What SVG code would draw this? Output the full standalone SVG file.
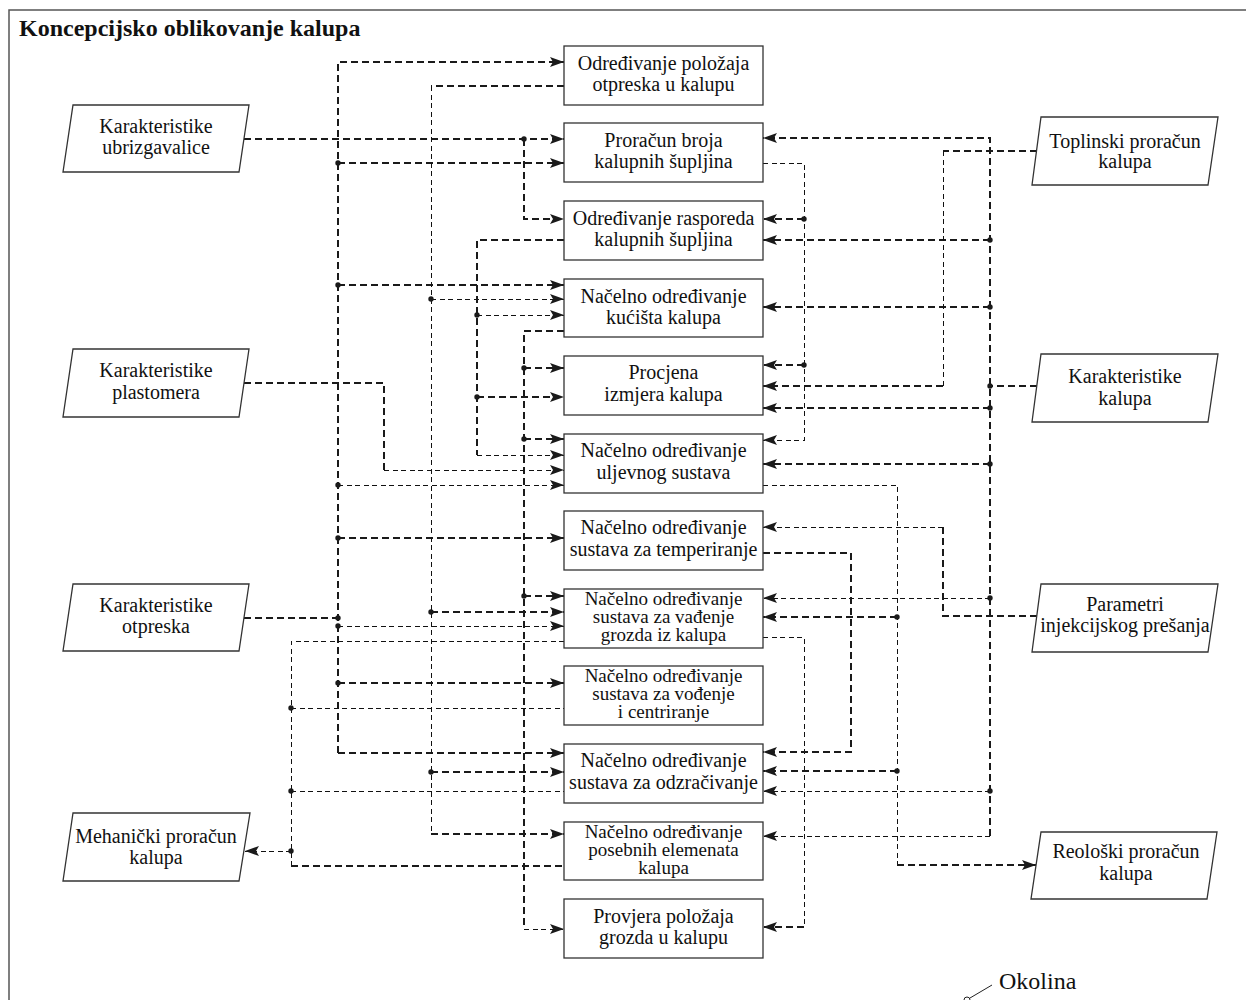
<svg xmlns="http://www.w3.org/2000/svg" width="1246" height="1000" viewBox="0 0 1246 1000">
<style>
text{font-family:"Liberation Serif","Times New Roman",serif;font-size:20px;fill:#111;text-anchor:middle}
.t3 text{font-size:19px}
.box{fill:#fff;stroke:#333;stroke-width:1.3}
.thk{fill:none;stroke:#1a1a1a;stroke-width:2;stroke-dasharray:7 4}
.thn{fill:none;stroke:#111;stroke-width:1;stroke-dasharray:5 3.5;shape-rendering:crispEdges}
.dot{fill:#1a1a1a}
.title{font-weight:bold;font-size:24px;text-anchor:start}
</style>
<defs>
<marker id="ar" viewBox="0 0 14 10" refX="14" refY="5" markerWidth="14" markerHeight="10" markerUnits="userSpaceOnUse" orient="auto">
<path d="M0,0 L14,5 L0,10 L3,5 z" fill="#1a1a1a"/>
</marker>
</defs>
<rect width="1246" height="1000" fill="#fff"/>
<path d="M9,1000 V10 H1246" fill="none" stroke="#555" stroke-width="1.5"/>
<text class="title" x="19" y="36">Koncepcijsko oblikovanje kalupa</text>

<g id="connectors">
<path class="thk" d="M244,618 H338"/>
<path class="thk" d="M338,753 V62 H564" marker-end="url(#ar)"/>
<path class="thk" d="M338,753 H564" marker-end="url(#ar)"/>
<path class="thk" d="M338,163 H564" marker-end="url(#ar)"/>
<path class="thk" d="M338,285 H564" marker-end="url(#ar)"/>
<path class="thn" d="M338,485 H564" marker-end="url(#ar)"/>
<path class="thk" d="M338,538 H564" marker-end="url(#ar)"/>
<path class="thn" d="M338,626 H564" marker-end="url(#ar)"/>
<path class="thk" d="M338,683 H564" marker-end="url(#ar)"/>
<path class="thk" d="M244,139 H564" marker-end="url(#ar)"/>
<path class="thk" d="M524,139 V219 H564" marker-end="url(#ar)"/>
<path class="thk" d="M564,86 H431"/>
<path class="thn" d="M431,86 V834"/>
<path class="thk" d="M431,834 H564" marker-end="url(#ar)"/>
<path class="thn" d="M431,299 H564" marker-end="url(#ar)"/>
<path class="thk" d="M431,612 H564" marker-end="url(#ar)"/>
<path class="thk" d="M431,772 H564" marker-end="url(#ar)"/>
<path class="thk" d="M564,240 H477 V455"/>
<path class="thn" d="M477,455 H564" marker-end="url(#ar)"/>
<path class="thn" d="M477,315 H564" marker-end="url(#ar)"/>
<path class="thk" d="M477,397 H564" marker-end="url(#ar)"/>
<path class="thk" d="M564,331 H524 V929"/>
<path class="thn" d="M524,929 H564" marker-end="url(#ar)"/>
<path class="thk" d="M524,368 H564" marker-end="url(#ar)"/>
<path class="thk" d="M524,439 H564" marker-end="url(#ar)"/>
<path class="thk" d="M524,596 H564" marker-end="url(#ar)"/>
<path class="thk" d="M244,383 H384 V470"/>
<path class="thn" d="M384,470 H564" marker-end="url(#ar)"/>
<path class="thn" d="M564,641 H291 V866"/>
<path class="thk" d="M291,866 H564"/>
<path class="thn" d="M291,708 H564"/>
<path class="thn" d="M291,791 H564"/>
<path class="thn" d="M291,851 H245" marker-end="url(#ar)"/>
<path class="thn" d="M763,163 H804 V440 H763" marker-end="url(#ar)"/>
<path class="thk" d="M804,219 H763" marker-end="url(#ar)"/>
<path class="thk" d="M804,365 H763" marker-end="url(#ar)"/>
<path class="thn" d="M763,637 H804 V927"/>
<path class="thk" d="M804,927 H763" marker-end="url(#ar)"/>
<path class="thk" d="M1037,386 H990"/>
<path class="thk" d="M990,836 V138 H763" marker-end="url(#ar)"/>
<path class="thk" d="M990,240 H763" marker-end="url(#ar)"/>
<path class="thk" d="M990,307 H763" marker-end="url(#ar)"/>
<path class="thk" d="M990,408 H763" marker-end="url(#ar)"/>
<path class="thk" d="M990,464 H763" marker-end="url(#ar)"/>
<path class="thn" d="M990,598 H763" marker-end="url(#ar)"/>
<path class="thn" d="M990,791 H763" marker-end="url(#ar)"/>
<path class="thn" d="M990,836 H763" marker-end="url(#ar)"/>
<path class="thk" d="M1037,151 H943"/>
<path class="thn" d="M943,151 V386"/>
<path class="thk" d="M943,386 H763" marker-end="url(#ar)"/>
<path class="thk" d="M1037,616 H943 V527"/>
<path class="thn" d="M943,527 H763" marker-end="url(#ar)"/>
<path class="thn" d="M763,485 H897 V865"/>
<path class="thk" d="M897,865 H1036" marker-end="url(#ar)"/>
<path class="thk" d="M897,617 H763" marker-end="url(#ar)"/>
<path class="thk" d="M897,771 H763" marker-end="url(#ar)"/>
<path class="thk" d="M763,553 H851 V752 H763" marker-end="url(#ar)"/>
<g class="dot">
<circle cx="338" cy="163" r="2.7"/><circle cx="338" cy="285" r="2.7"/><circle cx="338" cy="485" r="2.7"/>
<circle cx="338" cy="538" r="2.7"/><circle cx="338" cy="618" r="2.7"/><circle cx="338" cy="626" r="2.7"/>
<circle cx="338" cy="683" r="2.7"/><circle cx="524" cy="139" r="2.7"/>
<circle cx="431" cy="299" r="2.7"/><circle cx="431" cy="612" r="2.7"/><circle cx="431" cy="772" r="2.7"/>
<circle cx="477" cy="315" r="2.7"/><circle cx="477" cy="397" r="2.7"/>
<circle cx="524" cy="368" r="2.7"/><circle cx="524" cy="439" r="2.7"/><circle cx="524" cy="596" r="2.7"/>
<circle cx="291" cy="708" r="2.7"/><circle cx="291" cy="791" r="2.7"/><circle cx="291" cy="851" r="2.7"/>
<circle cx="804" cy="219" r="2.7"/><circle cx="804" cy="365" r="2.7"/>
<circle cx="990" cy="240" r="2.7"/><circle cx="990" cy="307" r="2.7"/><circle cx="990" cy="386" r="2.7"/>
<circle cx="990" cy="408" r="2.7"/><circle cx="990" cy="464" r="2.7"/><circle cx="990" cy="598" r="2.7"/>
<circle cx="990" cy="791" r="2.7"/><circle cx="897" cy="617" r="2.7"/><circle cx="897" cy="771" r="2.7"/>
</g>
</g>

<g id="box1"><rect class="box" x="564" y="46" width="199" height="59"/><text x="663.5" y="70">Određivanje položaja</text><text x="663.5" y="91">otpreska u kalupu</text></g>
<g id="box2"><rect class="box" x="564" y="123" width="199" height="59"/><text x="663.5" y="147">Proračun broja</text><text x="663.5" y="168">kalupnih šupljina</text></g>
<g id="box3"><rect class="box" x="564" y="201" width="199" height="59"/><text x="663.5" y="225">Određivanje rasporeda</text><text x="663.5" y="246">kalupnih šupljina</text></g>
<g id="box4"><rect class="box" x="564" y="279" width="199" height="58"/><text x="663.5" y="303">Načelno određivanje</text><text x="663.5" y="324">kućišta kalupa</text></g>
<g id="box5"><rect class="box" x="564" y="356" width="199" height="59"/><text x="663.5" y="379">Procjena</text><text x="663.5" y="401">izmjera kalupa</text></g>
<g id="box6"><rect class="box" x="564" y="434" width="199" height="59"/><text x="663.5" y="457">Načelno određivanje</text><text x="663.5" y="479">uljevnog sustava</text></g>
<g id="box7"><rect class="box" x="564" y="511" width="199" height="59"/><text x="663.5" y="534">Načelno određivanje</text><text x="663.5" y="556">sustava za temperiranje</text></g>
<g id="box8" class="t3"><rect class="box" x="564" y="589" width="199" height="59"/><text x="663.5" y="605">Načelno određivanje</text><text x="663.5" y="623">sustava za vađenje</text><text x="663.5" y="641">grozda iz kalupa</text></g>
<g id="box9" class="t3"><rect class="box" x="564" y="666" width="199" height="59"/><text x="663.5" y="682">Načelno određivanje</text><text x="663.5" y="700">sustava za vođenje</text><text x="663.5" y="718">i centriranje</text></g>
<g id="box10"><rect class="box" x="564" y="744" width="199" height="59"/><text x="663.5" y="767">Načelno određivanje</text><text x="663.5" y="789">sustava za odzračivanje</text></g>
<g id="box11" class="t3"><rect class="box" x="564" y="822" width="199" height="58"/><text x="663.5" y="838">Načelno određivanje</text><text x="663.5" y="856">posebnih elemenata</text><text x="663.5" y="874">kalupa</text></g>
<g id="box12"><rect class="box" x="564" y="899" width="199" height="59"/><text x="663.5" y="923">Provjera položaja</text><text x="663.5" y="944">grozda u kalupu</text></g>

<g id="ubrizgavalice"><polygon class="box" points="73,105 249,105 239,172 63,172"/><text x="156" y="133">Karakteristike</text><text x="156" y="154">ubrizgavalice</text></g>
<g id="plastomera"><polygon class="box" points="73,349 249,349 239,417 63,417"/><text x="156" y="377">Karakteristike</text><text x="156" y="399">plastomera</text></g>
<g id="otpreska"><polygon class="box" points="73,584 249,584 239,651 63,651"/><text x="156" y="612">Karakteristike</text><text x="156" y="633">otpreska</text></g>
<g id="mehanicki"><polygon class="box" points="73,813 250,813 239,881 63,881"/><text x="156" y="843">Mehanički proračun</text><text x="156" y="864">kalupa</text></g>
<g id="toplinski"><polygon class="box" points="1041,117 1218,117 1208,185 1032,185"/><text x="1125" y="148">Toplinski proračun</text><text x="1125" y="168">kalupa</text></g>
<g id="kalupa"><polygon class="box" points="1041,354 1218,354 1208,422 1032,422"/><text x="1125" y="383">Karakteristike</text><text x="1125" y="405">kalupa</text></g>
<g id="parametri"><polygon class="box" points="1041,584 1218,584 1208,652 1032,652"/><text x="1125" y="611">Parametri</text><text x="1125" y="632">injekcijskog prešanja</text></g>
<g id="reoloski"><polygon class="box" points="1041,832 1217,832 1207,899 1031,899"/><text x="1126" y="858">Reološki proračun</text><text x="1126" y="880">kalupa</text></g>

<g id="okolina">
<line x1="992" y1="985" x2="970" y2="998" stroke="#222" stroke-width="1"/>
<circle cx="967" cy="1000" r="3" fill="#fff" stroke="#222" stroke-width="1"/>
<text x="999" y="989" style="font-size:24px;text-anchor:start">Okolina</text>
</g>
</svg>
